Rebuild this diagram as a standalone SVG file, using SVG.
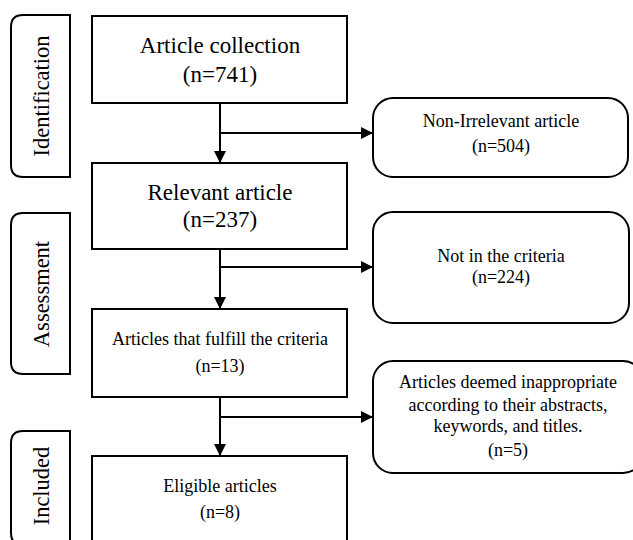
<svg xmlns="http://www.w3.org/2000/svg" width="633" height="540" viewBox="0 0 633 540" font-family="'Liberation Serif', 'Times New Roman', 'DejaVu Serif', serif">
<style>
.box{fill:#fff;stroke:#000;stroke-width:2}
.ln{fill:none;stroke:#000;stroke-width:2}
text{font-family:'Liberation Serif','Times New Roman','DejaVu Serif',serif;fill:#000;text-anchor:middle}
.big{font-size:23px}
.sm{font-size:18px}
.stage{font-size:22.5px}
</style>
<defs>
<marker id="ah" viewBox="0 0 12 12" refX="12" refY="6" markerWidth="12" markerHeight="12" markerUnits="userSpaceOnUse" orient="auto">
<path d="M0,0 L12,6 L0,12 Z" fill="#000"/>
</marker>
</defs>
<rect width="633" height="540" fill="#fff"/>
<g id="stage-identification">
<path class="box" d="M70,15 L70,177 L23,177 Q11,177 11,165 L11,27 Q11,15 23,15 Z"/>
<text class="stage" transform="translate(49,96) rotate(-90)">Identification</text>
</g>
<g id="stage-assessment">
<path class="box" d="M70,213 L70,374 L23,374 Q11,374 11,362 L11,225 Q11,213 23,213 Z"/>
<text class="stage" transform="translate(49,294) rotate(-90)">Assessment</text>
</g>
<g id="stage-included">
<path class="box" d="M70,431 L70,545 L23,545 Q11,545 11,533 L11,443 Q11,431 23,431 Z"/>
<text class="stage" transform="translate(49,486) rotate(-90)">Included</text>
</g>
<g id="connectors">
<line class="ln" x1="220" y1="103" x2="220" y2="163" marker-end="url(#ah)"/>
<line class="ln" x1="220" y1="133" x2="373" y2="133" marker-end="url(#ah)"/>
<line class="ln" x1="220" y1="249" x2="220" y2="309" marker-end="url(#ah)"/>
<line class="ln" x1="220" y1="267" x2="373" y2="267" marker-end="url(#ah)"/>
<line class="ln" x1="220" y1="397" x2="220" y2="456" marker-end="url(#ah)"/>
<line class="ln" x1="220" y1="417" x2="373" y2="417" marker-end="url(#ah)"/>
</g>
<g id="article-collection">
<rect class="box" x="92" y="16" width="255" height="87"/>
<text class="big" x="220" y="53">Article collection</text>
<text class="big" x="220" y="82">(n=741)</text>
</g>
<g id="relevant-article">
<rect class="box" x="92" y="163" width="255" height="86"/>
<text class="big" x="220" y="200">Relevant article</text>
<text class="big" x="220" y="227">(n=237)</text>
</g>
<g id="fulfill-criteria">
<rect class="box" x="92" y="309" width="255" height="88"/>
<text class="sm" x="220" y="345">Articles that fulfill the criteria</text>
<text class="sm" x="220" y="372">(n=13)</text>
</g>
<g id="eligible-articles">
<rect class="box" x="92" y="456" width="255" height="90"/>
<text class="sm" x="220" y="492">Eligible articles</text>
<text class="sm" x="220" y="518">(n=8)</text>
</g>
<g id="non-irrelevant">
<rect class="box" x="373" y="98" width="255" height="79" rx="20" ry="20"/>
<text class="sm" x="501" y="127" font-size="19">Non-Irrelevant article</text>
<text class="sm" x="501" y="152" font-size="19">(n=504)</text>
</g>
<g id="not-in-criteria">
<rect class="box" x="373" y="212" width="256" height="111" rx="20" ry="20"/>
<text class="sm" x="501" y="262">Not in the criteria</text>
<text class="sm" x="501" y="283">(n=224)</text>
</g>
<g id="inappropriate">
<rect class="box" x="373" y="361" width="270" height="112" rx="20" ry="20"/>
<text class="sm" x="508" y="388">Articles deemed inappropriate</text>
<text class="sm" x="508" y="411">according to their abstracts,</text>
<text class="sm" x="508" y="432">keywords, and titles.</text>
<text class="sm" x="508" y="456">(n=5)</text>
</g>
</svg>
